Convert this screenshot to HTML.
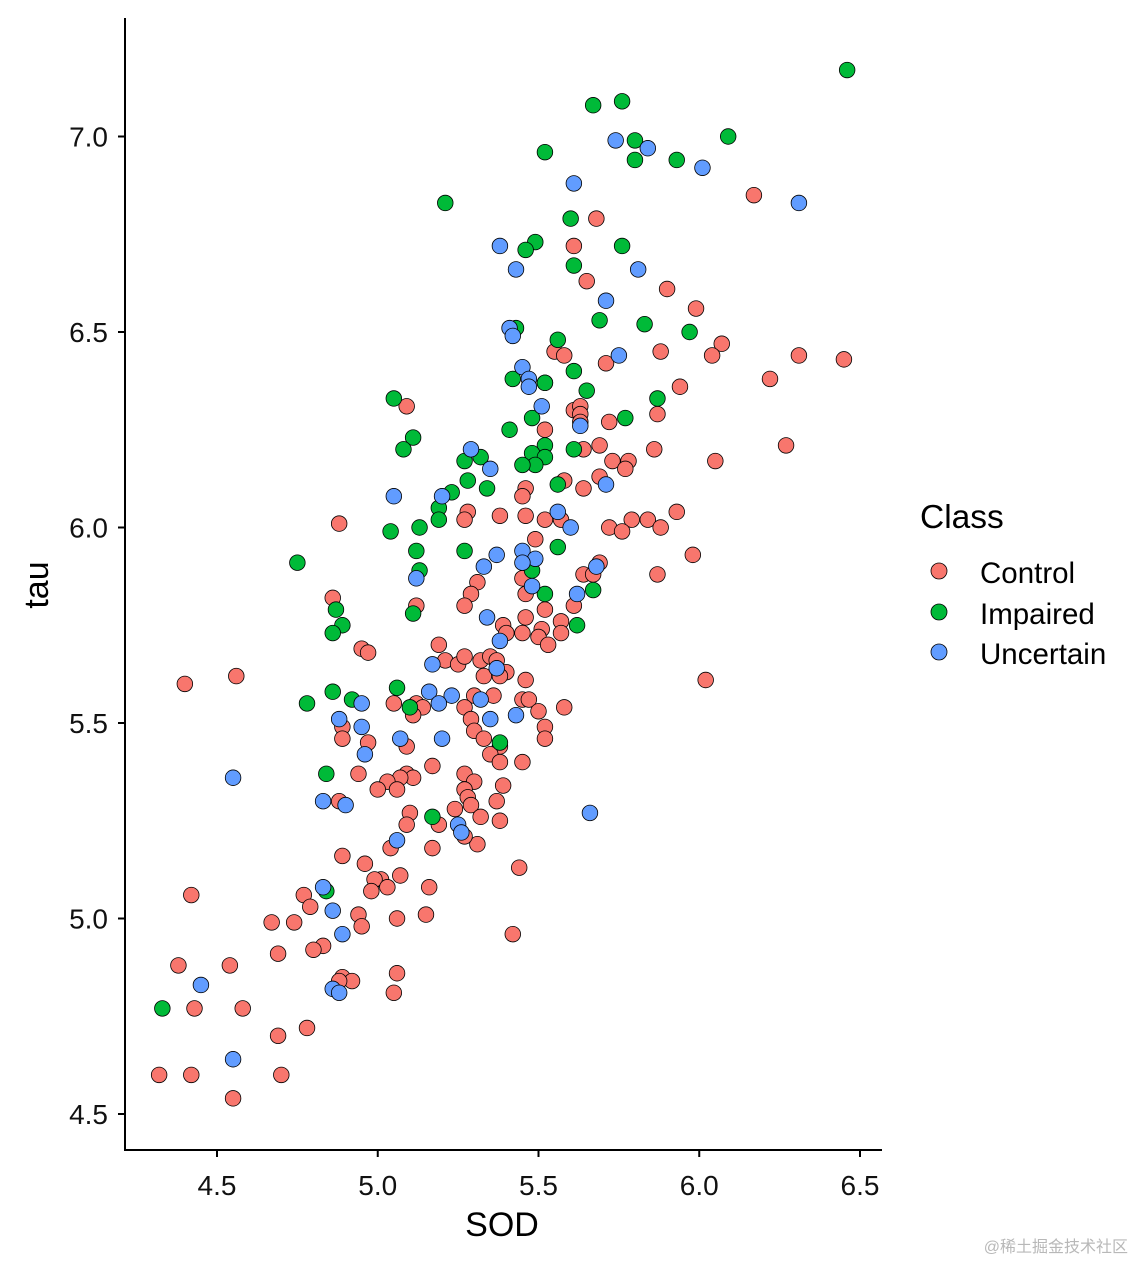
<!DOCTYPE html>
<html><head><meta charset="utf-8">
<style>
html,body{margin:0;padding:0;background:#fff;}
svg{display:block;font-family:"Liberation Sans",Arial,sans-serif;}
</style></head>
<body>
<svg id="chart" width="1134" height="1262" viewBox="0 0 1134 1262">
<g id="points"></g>
<g id="axes"></g>
<g>
  <text x="920" y="528" font-size="33.5" fill="#000">Class</text>
  <circle cx="939" cy="571" r="8" fill="#F8766D" stroke="#000" stroke-width="0.8"/>
  <text x="980" y="583" font-size="29.5">Control</text>
  <circle cx="939" cy="612" r="8" fill="#00BA38" stroke="#000" stroke-width="0.8"/>
  <text x="980" y="624" font-size="29.5">Impaired</text>
  <circle cx="939" cy="652" r="8" fill="#619CFF" stroke="#000" stroke-width="0.8"/>
  <text x="980" y="664" font-size="29.5">Uncertain</text>
</g>
<text x="502" y="1236" font-size="34" text-anchor="middle">SOD</text>
<text x="48" y="585" font-size="34" text-anchor="middle" transform="rotate(-90 48 585)">tau</text>
<text x="1128" y="1252" font-size="16" fill="#b8b8b8" text-anchor="end" font-family="'Liberation Sans','Noto Sans CJK SC',sans-serif">@稀土掘金技术社区</text>
</svg>
<script>
const xTicks=[4.5,5.0,5.5,6.0,6.5];
const yTicks=[4.5,5.0,5.5,6.0,6.5,7.0];
const controlX=[6.17,5.68,5.61,5.65,5.90,5.99,6.07,6.04,6.31,6.45,5.88,5.71,5.55,5.58,6.22,5.94,5.52,5.09,5.61,5.63,5.63,5.87,5.63,5.72,5.52,5.69,6.27,5.86,5.64,5.73,5.78,5.77,6.05,5.69,5.58,5.46,5.45,5.64,5.93,5.28,5.38,5.46,5.52,5.57,5.79,5.84,5.72,5.76,5.88,5.27,4.88,5.49,5.98,5.69,5.64,5.67,5.87,5.31,5.45,5.46,5.29,5.27,4.86,5.52,5.61,5.12,5.46,5.39,5.57,5.40,5.45,5.51,5.57,5.50,5.53,4.95,4.97,5.19,4.56,4.40,5.21,5.25,5.27,5.32,5.35,5.37,5.40,5.33,5.38,6.02,5.46,5.30,5.36,5.45,5.47,5.58,5.05,5.12,5.14,5.27,5.50,5.11,5.29,5.52,4.89,5.30,5.33,5.52,4.89,4.97,5.38,5.09,5.35,5.38,5.45,5.17,4.94,5.09,5.11,5.07,5.27,5.03,5.30,5.06,5.00,5.39,5.27,5.28,5.37,4.88,5.29,5.10,5.24,5.32,5.09,5.19,5.38,5.31,5.27,5.17,5.04,4.89,4.96,5.44,5.07,5.01,4.99,5.03,5.16,4.77,4.42,4.98,4.79,5.06,5.15,4.67,4.74,4.94,4.95,5.42,4.83,4.80,4.69,4.38,4.54,4.89,4.92,5.06,4.88,4.43,4.58,5.05,4.78,4.69,4.32,4.42,4.70,4.55];
const controlY=[6.85,6.79,6.72,6.63,6.61,6.56,6.47,6.44,6.44,6.43,6.45,6.42,6.45,6.44,6.38,6.36,6.37,6.31,6.30,6.31,6.29,6.29,6.27,6.27,6.25,6.21,6.21,6.20,6.20,6.17,6.17,6.15,6.17,6.13,6.12,6.10,6.08,6.10,6.04,6.04,6.03,6.03,6.02,6.02,6.02,6.02,6.00,5.99,6.00,6.02,6.01,5.97,5.93,5.91,5.88,5.88,5.88,5.86,5.87,5.83,5.83,5.80,5.82,5.79,5.80,5.80,5.77,5.75,5.76,5.73,5.73,5.74,5.73,5.72,5.70,5.69,5.68,5.70,5.62,5.60,5.66,5.65,5.67,5.66,5.67,5.66,5.63,5.62,5.62,5.61,5.61,5.57,5.57,5.56,5.56,5.54,5.55,5.55,5.54,5.54,5.53,5.52,5.51,5.49,5.49,5.48,5.46,5.46,5.46,5.45,5.44,5.44,5.42,5.40,5.40,5.39,5.37,5.37,5.36,5.36,5.37,5.35,5.35,5.33,5.33,5.34,5.33,5.31,5.30,5.30,5.29,5.27,5.28,5.26,5.24,5.24,5.25,5.19,5.21,5.18,5.18,5.16,5.14,5.13,5.11,5.10,5.10,5.08,5.08,5.06,5.06,5.07,5.03,5.00,5.01,4.99,4.99,5.01,4.98,4.96,4.93,4.92,4.91,4.88,4.88,4.85,4.84,4.86,4.84,4.77,4.77,4.81,4.72,4.70,4.60,4.60,4.60,4.54];
const impairedX=[6.46,5.67,5.76,5.80,5.80,5.93,6.09,5.52,5.21,5.60,5.49,5.46,5.61,5.76,5.69,5.83,5.97,5.43,5.56,5.05,5.61,5.52,5.42,5.65,5.87,5.48,5.77,5.11,5.08,5.41,5.52,5.48,5.61,5.32,5.27,5.52,5.49,5.45,5.28,5.34,5.56,5.23,5.19,5.19,5.13,5.04,5.27,5.12,5.56,4.75,5.13,5.48,5.52,5.67,4.87,4.89,4.86,5.11,5.62,4.86,4.78,4.92,5.06,5.10,5.38,4.84,5.17,4.84,4.33];
const impairedY=[7.17,7.08,7.09,6.99,6.94,6.94,7.00,6.96,6.83,6.79,6.73,6.71,6.67,6.72,6.53,6.52,6.50,6.51,6.48,6.33,6.40,6.37,6.38,6.35,6.33,6.28,6.28,6.23,6.20,6.25,6.21,6.19,6.20,6.18,6.17,6.18,6.16,6.16,6.12,6.10,6.11,6.09,6.05,6.02,6.00,5.99,5.94,5.94,5.95,5.91,5.89,5.89,5.83,5.84,5.79,5.75,5.73,5.78,5.75,5.58,5.55,5.56,5.59,5.54,5.45,5.37,5.26,5.07,4.77];
const uncertainX=[5.74,5.84,6.01,6.31,5.61,5.38,5.43,5.81,5.71,5.41,5.42,5.75,5.45,5.47,5.47,5.51,5.63,5.29,5.35,5.71,5.05,5.20,5.56,5.60,5.37,5.45,5.49,5.45,5.33,5.68,5.62,5.12,5.48,5.34,5.38,5.37,5.17,5.16,5.23,5.32,4.95,5.19,5.43,5.35,4.88,4.95,5.20,5.07,4.96,4.55,4.83,4.90,5.25,5.26,5.06,5.66,4.83,4.86,4.89,4.45,4.86,4.88,4.55];
const uncertainY=[6.99,6.97,6.92,6.83,6.88,6.72,6.66,6.66,6.58,6.51,6.49,6.44,6.41,6.38,6.36,6.31,6.26,6.20,6.15,6.11,6.08,6.08,6.04,6.00,5.93,5.94,5.92,5.91,5.90,5.90,5.83,5.87,5.85,5.77,5.71,5.64,5.65,5.58,5.57,5.56,5.55,5.55,5.52,5.51,5.51,5.49,5.46,5.46,5.42,5.36,5.30,5.29,5.24,5.22,5.20,5.27,5.08,5.02,4.96,4.83,4.82,4.81,4.64];

const NS="http://www.w3.org/2000/svg";
function xs(v){return 217+(v-4.5)*321.5;}
function ys(v){return 1114-(v-4.5)*391;}
const axes=document.getElementById('axes');
const pts=document.getElementById('points');
function mk(tag,attrs,parent){const e=document.createElementNS(NS,tag);for(const k in attrs)e.setAttribute(k,attrs[k]);parent.appendChild(e);return e;}

const xl=mk('line',{x1:125,y1:1150,x2:882,y2:1150,stroke:'#000','stroke-width':2},axes);


const yl=mk('line',{x1:125,y1:18,x2:125,y2:1151,stroke:'#000','stroke-width':2},axes);



xTicks.forEach(t=>{
  const tk=mk('line',{x1:xs(t),y1:1150,x2:xs(t),y2:1157,stroke:'#000','stroke-width':2},axes);
  
  
  const tx=mk('text',{x:xs(t),y:1195,'font-size':28,'text-anchor':'middle',fill:'#111'},axes);
  tx.textContent=t.toFixed(1);
  
  
});
yTicks.forEach(t=>{
  const tk=mk('line',{x1:118,y1:ys(t),x2:125,y2:ys(t),stroke:'#000','stroke-width':2},axes);
  
  
  const tx=mk('text',{x:108,y:ys(t)+10,'font-size':28,'text-anchor':'end',fill:'#111'},axes);
  tx.textContent=t.toFixed(1);
  
  
});

function drawSeries(X,Y,color,name){
  for(let i=0;i<X.length;i++){
    const c=mk('circle',{cx:xs(X[i]),cy:ys(Y[i]),r:7.8,fill:color,stroke:'#000','stroke-width':0.8},pts);
    
    
  }
}
drawSeries(controlX,controlY,'#F8766D','point-control');
drawSeries(impairedX,impairedY,'#00BA38','point-impaired');
drawSeries(uncertainX,uncertainY,'#619CFF','point-uncertain');
</script>
</body></html>
